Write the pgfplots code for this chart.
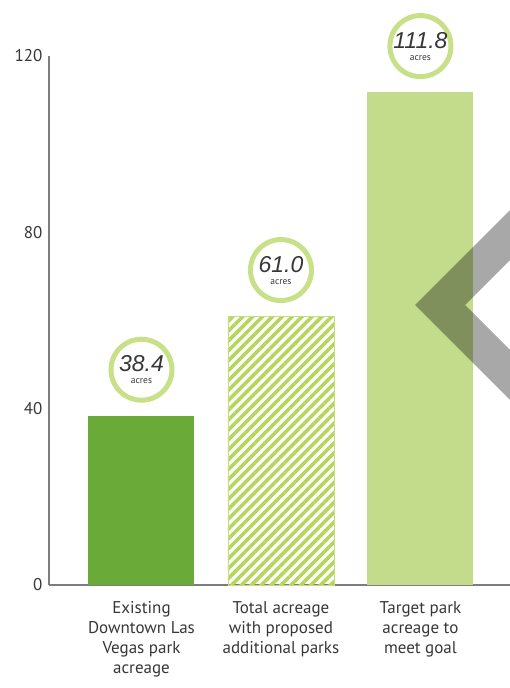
\documentclass[border=0pt]{standalone}
\usepackage{pgfplots}
\pgfplotsset{compat=1.18}
\usetikzlibrary{patterns.meta}
\usepackage{fontspec}
\setmainfont{PT Sans}
\newfontfamily\numfont{Liberation Sans}

\definecolor{darkgreen}{RGB}{106,170,56}
\definecolor{lightgreen}{RGB}{194,220,140}
\definecolor{ringgreen}{RGB}{200,224,136}
\definecolor{hatchgreen}{RGB}{182,213,92}
\definecolor{axisgray}{RGB}{125,125,125}
\definecolor{textgray}{RGB}{55,55,55}

\begin{document}
\begin{tikzpicture}[x=1pt,y=1pt]
\useasboundingbox (0,0) rectangle (510,688);
\begin{axis}[
    at={(49pt,103pt)}, anchor=south west,
    scale only axis, width=461pt, height=529pt,
    xmin=-0.663, xmax=2.642, ymin=0, ymax=120,
    axis y line=left, axis x line=bottom,
    y axis line style={-, draw=axisgray, line width=1.3pt},
    x axis line style={-, draw=axisgray, line width=1.8pt},
    major tick length=0pt,
    ytick={0,40,80,120},
    xtick={0,1,2},
    xticklabels={{Existing\\Downtown Las\\Vegas park\\acreage},
                 {Total acreage\\with proposed\\additional parks},
                 {Target park\\acreage to\\meet goal}},
    tick label style={text=textgray, font=\fontsize{17}{20}\selectfont},
    xticklabel style={align=center, yshift=-13pt},
    yticklabel style={xshift=-3pt},
    /pgf/number format/assume math mode=true,
    clip=false,
    nodes near coords={\numfont\itshape\fontsize{23}{14}\selectfont\pgfmathprintnumber[fixed,fixed zerofill,precision=1,assume math mode=true]{\pgfplotspointmeta}\\{\fontsize{9.5}{14}\selectfont acres}},
    every node near coord/.style={align=center, circle, draw=ringgreen, line width=5pt,
        minimum size=61pt, inner sep=0pt, fill=white, text=textgray, anchor=south, yshift=13pt},
]
\addplot[ybar, bar shift=0pt, bar width=106pt, fill=darkgreen, draw=none]
    coordinates {(0,38.4)};
\addplot[ybar, bar shift=0pt, bar width=106pt, draw=hatchgreen!80, line width=0.6pt,
    pattern={Lines[angle=45,distance=7pt,line width=3.6pt]}, pattern color=hatchgreen]
    coordinates {(1,61.0)};
\addplot[ybar, bar shift=0pt, bar width=106pt, fill=lightgreen, draw=none]
    coordinates {(2,111.8)};
\end{axis}
% carousel arrow overlay
\fill[black, opacity=0.34] (415,383) -- (510,478) -- (510,428) -- (465,383)
    -- (510,338) -- (510,288) -- cycle;
\end{tikzpicture}
\end{document}
